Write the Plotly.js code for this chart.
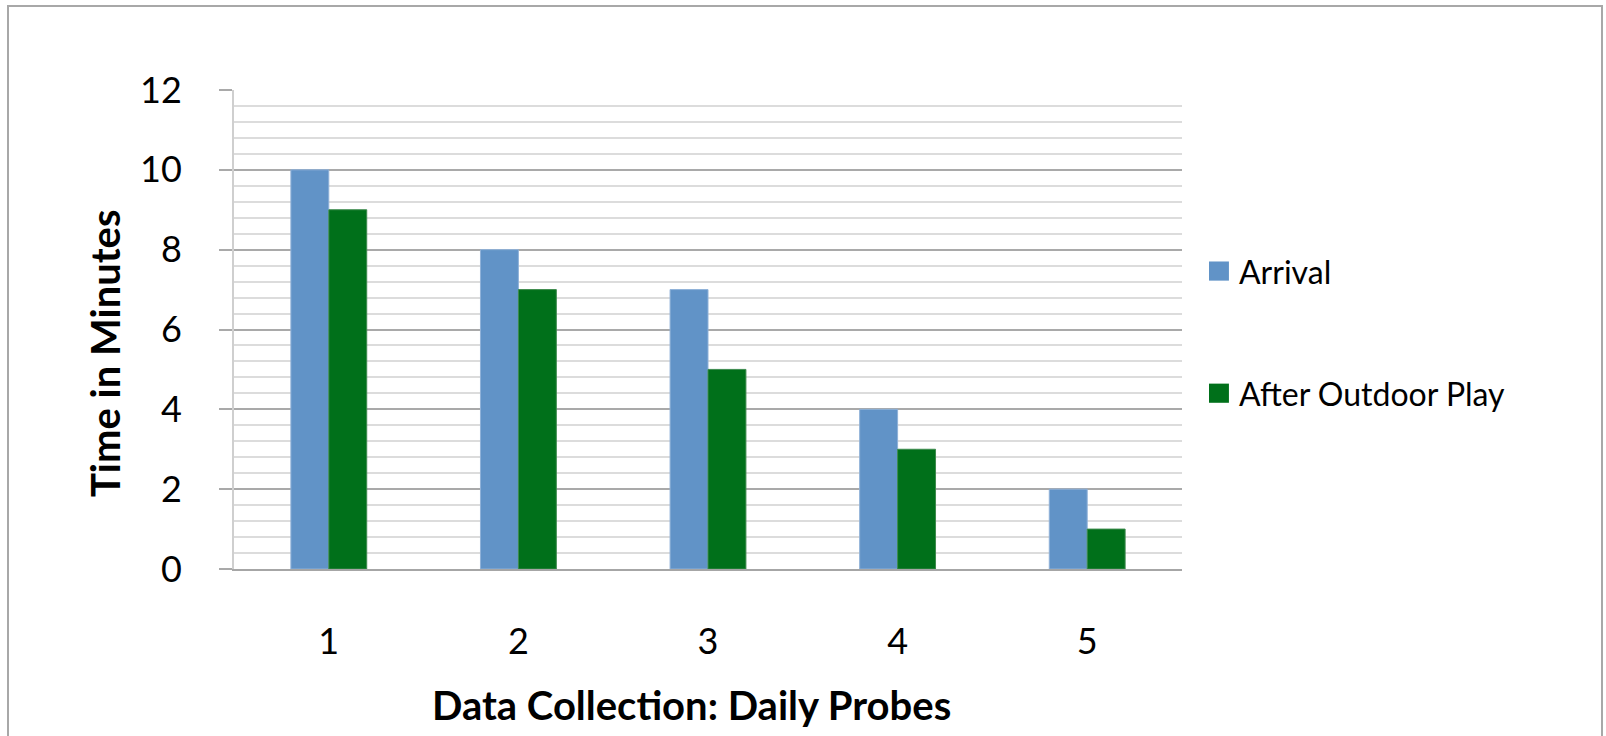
<!DOCTYPE html>
<html>
<head>
<meta charset="utf-8">
<script src="https://cdn.plot.ly/plotly-3.0.1.min.js"></script>
<style>
  html, body { margin: 0; padding: 0; background: #ffffff; }
  #wrap { position: relative; width: 1606px; height: 736px; overflow: hidden; }
  #chart { position: absolute; left: 0; top: 0; width: 1606px; height: 736px; }
  #frame { position: absolute; left: 7px; top: 5px; width: 1596px; height: 760px;
           border: 2px solid #a8a8a8; box-sizing: border-box; pointer-events: none; }
</style>
</head>
<body>
<div id="wrap">
  <div id="chart"></div>
  <div id="frame"></div>
</div>
<script>
// Daily probe numbers and the minutes recorded for each
const probes = ['1', '2', '3', '4', '5'];
const arrival = [10, 8, 7, 4, 2];
const afterOutdoorPlay = [9, 7, 5, 3, 1];
const seriesNames = ['Arrival', 'After Outdoor Play'];
const seriesColors = ['#6193c7', '#00701a'];
const yTicks = [0, 2, 4, 6, 8, 10, 12];
const xTitle = 'Data Collection: Daily Probes';
const yTitle = 'Time in Minutes';

const FONT = 'Lato, "Open Sans", sans-serif';

const traces = [
  {
    type: 'bar', name: seriesNames[0], x: probes, y: arrival,
    marker: { color: seriesColors[0], line: { color: '#8fb1d8', width: 1 } },
    showlegend: false, hoverinfo: 'x+y+name'
  },
  {
    type: 'bar', name: seriesNames[1], x: probes, y: afterOutdoorPlay,
    marker: { color: seriesColors[1], line: { color: '#3d8a4d', width: 1 } },
    showlegend: false, hoverinfo: 'x+y+name'
  }
];

// Legend drawn as paper-positioned swatches with labels beside them
const legendY = [0.622, 0.367];
const shapes = [];
const annotations = [];
seriesNames.forEach((name, i) => {
  shapes.push({
    type: 'rect', xref: 'paper', yref: 'paper',
    x0: 1.0285, x1: 1.0495, y0: legendY[i] - 0.020, y1: legendY[i] + 0.020,
    fillcolor: seriesColors[i], line: { width: 0 }
  });
  annotations.push({
    xref: 'paper', yref: 'paper', x: 1.058, y: legendY[i],
    xanchor: 'left', yanchor: 'middle', showarrow: false,
    text: name, font: { family: FONT, size: 32, color: '#000000' }
  });
});

// Axis titles, placed relative to the whole chart block
annotations.push({
  xref: 'paper', yref: 'paper', x: 0.483, y: -0.284,
  xanchor: 'center', yanchor: 'middle', showarrow: false,
  text: xTitle, font: { family: FONT, size: 40, color: '#000000', weight: 'bold' }
});
annotations.push({
  xref: 'paper', yref: 'paper', x: -0.136, y: 0.449,
  xanchor: 'center', yanchor: 'middle', showarrow: false, textangle: -90,
  text: yTitle, font: { family: FONT, size: 40, color: '#000000', weight: 'bold' }
});

const layout = {
  width: 1606, height: 736,
  margin: { l: 234, r: 424, t: 90, b: 167 },
  paper_bgcolor: '#ffffff', plot_bgcolor: '#ffffff',
  barmode: 'group', bargap: 0.6, bargroupgap: 0,
  showlegend: false,
  font: { family: FONT, color: '#000000' },
  xaxis: {
    type: 'category', range: [-0.5, 4.5],
    showgrid: false, zeroline: false,
    showline: true, linecolor: '#a6a6a6', linewidth: 2,
    ticks: '', ticklabelstandoff: 40,
    tickfont: { family: FONT, size: 36, color: '#000000' }
  },
  yaxis: {
    range: [0, 12], tickvals: yTicks, ticktext: yTicks.map(String),
    showgrid: true, gridcolor: '#a9a9a9', gridwidth: 2,
    zeroline: false,
    showline: true, linecolor: '#cfcfcf', linewidth: 2,
    ticks: 'outside', ticklen: 13, tickwidth: 2, tickcolor: '#a9a9a9',
    ticklabelstandoff: 30,
    tickfont: { family: FONT, size: 36, color: '#000000' },
    minor: { dtick: 0.4, tick0: 0, showgrid: true, gridcolor: '#dcdcdc', gridwidth: 2, ticks: '' }
  },
  shapes: shapes,
  annotations: annotations
};

Plotly.newPlot('chart', traces, layout, { displayModeBar: false, staticPlot: true });
</script>
</body>
</html>
